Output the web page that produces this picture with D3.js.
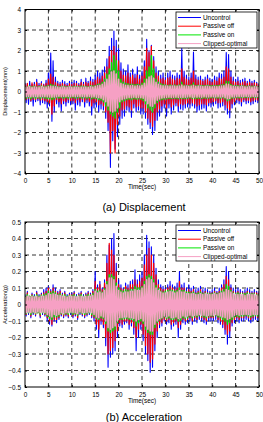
<!DOCTYPE html>
<html>
<head>
<meta charset="utf-8">
<script src="https://cdn.jsdelivr.net/npm/d3@7"></script>
<style>
  body { margin: 0; background: #fff; }
  svg { display: block; font-family: "Liberation Sans", Arial, sans-serif; }
</style>
</head>
<body>
<svg id="chart" width="263" height="422"></svg>
<script>
// sample step of the traces (sec)
const dt = 0.25;
const seriesNames = ["Uncontrol", "Passive off", "Passive on", "Clipped-optimal"];
const seriesColors = ["#0000ff", "#ff0000", "#00e600", "#f6a0c4"];
const seriesWidths = [1.1, 1.2, 1.4, 1.6];
const timeTicks = [0, 5, 10, 15, 20, 25, 30, 35, 40, 45, 50];
const dispTicks = [-4, -3, -2, -1, 0, 1, 2, 3, 4];
const accTicks = [-0.5, -0.4, -0.3, -0.2, -0.1, 0, 0.1, 0.2, 0.3, 0.4, 0.5];

// displacement (mm), one value every 0.25 s
const dispUnc = [
  0.42,-0.55,0.38,-0.62,0.5,-0.48,0.35,-0.7,0.45,-0.5,0.6,-0.45,0.4,-0.65,0.48,-0.55,0.36,-0.6,0.55,-0.8,
  0.9,-0.7,1.88,-1.45,1.5,-1.0,0.7,-0.6,0.5,-0.75,0.45,-0.95,0.55,-0.6,0.48,-0.7,0.4,-0.55,0.5,-0.65,
  0.45,-0.6,0.55,-0.9,0.5,-0.65,0.4,-0.7,0.6,-0.5,0.45,-0.75,0.65,-0.55,0.5,-0.7,0.7,-1.15,0.6,-0.8,
  0.8,-0.75,1.0,-1.0,0.9,-0.85,1.05,-0.9,1.2,-1.3,1.6,-1.9,2.2,-3.7,2.6,-2.4,2.95,-2.8,2.5,-2.2,
  2.1,-1.6,1.4,-1.3,1.1,-1.2,1.0,-0.9,1.3,-1.0,0.9,-1.25,1.1,-0.8,0.85,-1.0,1.2,-0.9,0.8,-1.1,
  1.0,-1.1,1.5,-1.3,2.55,-1.6,2.0,-1.8,2.25,-2.1,1.7,-1.9,1.2,-1.4,1.0,-1.2,0.8,-1.0,0.9,-0.8,
  0.7,-1.2,0.9,-0.8,1.0,-1.1,0.8,-0.9,0.75,-0.7,0.9,-1.0,0.8,-0.85,2.1,-0.9,1.0,-0.8,0.8,-0.75,
  0.7,-0.8,0.9,-0.7,1.92,-0.8,0.8,-1.0,0.7,-0.9,0.75,-0.85,0.6,-0.8,0.7,-0.95,0.8,-0.7,0.65,-0.75,
  0.6,-0.7,0.75,-0.6,0.7,-0.8,0.9,-0.75,0.85,-0.7,1.0,-0.9,1.9,-1.1,1.8,-1.28,1.0,-0.8,0.7,-0.65,
  0.6,-0.55,0.7,-0.6,0.55,-0.7,0.6,-0.5,0.65,-0.6,0.5,-0.55,0.6,-0.65,0.5,-0.6,0.55,-0.5,0.45,-0.55,
  0.4
];
const dispOff = [
  0.35,-0.4,0.4,-0.35,0.3,-0.45,0.42,-0.38,0.35,-0.4,0.45,-0.35,0.3,-0.42,0.38,-0.4,0.32,-0.45,0.4,-0.5,
  0.6,-0.55,0.85,-1.1,0.7,-0.7,0.45,-0.4,0.38,-0.5,0.35,-0.6,0.4,-0.45,0.35,-0.5,0.3,-0.4,0.38,-0.45,
  0.35,-0.45,0.4,-0.55,0.38,-0.4,0.32,-0.5,0.45,-0.38,0.35,-0.5,0.45,-0.4,0.4,-0.48,0.5,-0.7,0.45,-0.55,
  0.55,-0.5,0.7,-0.65,0.6,-0.6,0.75,-0.7,0.9,-1.0,1.2,-1.5,1.7,-3.0,2.0,-1.9,2.2,-3.0,1.9,-1.6,
  1.5,-1.2,1.0,-0.9,0.8,-0.85,0.75,-0.7,0.9,-0.75,0.7,-0.9,0.8,-0.6,0.65,-0.75,0.8,-0.7,0.6,-0.8,
  0.75,-0.8,1.2,-1.0,2.1,-1.3,1.9,-1.5,2.2,-1.7,1.5,-1.4,0.9,-1.0,0.75,-0.85,0.6,-0.7,0.65,-0.6,
  0.55,-0.8,0.65,-0.6,0.7,-0.75,0.6,-0.65,0.55,-0.55,0.65,-0.7,0.6,-0.6,1.1,-0.65,0.7,-0.6,0.6,-0.55,
  0.55,-0.6,0.65,-0.55,1.0,-0.6,0.6,-0.7,0.55,-0.65,0.55,-0.6,0.5,-0.6,0.55,-0.65,0.6,-0.55,0.5,-0.55,
  0.45,-0.5,0.55,-0.45,0.5,-0.55,0.65,-0.55,0.6,-0.5,0.7,-0.65,1.2,-0.8,1.1,-0.9,0.7,-0.6,0.5,-0.5,
  0.45,-0.4,0.5,-0.45,0.4,-0.5,0.45,-0.4,0.5,-0.45,0.4,-0.42,0.45,-0.5,0.4,-0.45,0.42,-0.4,0.38,-0.42,
  0.35
];
const dispOn = [
  0.25,-0.32,0.22,-0.3,0.28,-0.35,0.24,-0.3,0.26,-0.33,0.22,-0.3,0.25,-0.34,0.27,-0.3,0.24,-0.32,0.26,-0.35,
  0.3,-0.35,0.35,-0.4,0.32,-0.36,0.28,-0.3,0.25,-0.32,0.24,-0.3,0.26,-0.33,0.25,-0.3,0.23,-0.32,0.25,-0.3,
  0.24,-0.3,0.26,-0.33,0.25,-0.31,0.23,-0.3,0.27,-0.32,0.25,-0.3,0.26,-0.34,0.24,-0.3,0.28,-0.36,0.27,-0.33,
  0.3,-0.34,0.35,-0.4,0.38,-0.42,0.45,-0.5,0.6,-0.7,0.85,-0.9,1.1,-1.1,1.4,-1.2,1.75,-1.3,1.5,-1.0,
  1.0,-0.8,0.6,-0.5,0.45,-0.45,0.4,-0.4,0.38,-0.38,0.35,-0.4,0.36,-0.35,0.34,-0.38,0.35,-0.36,0.33,-0.38,
  0.4,-0.45,0.6,-0.6,1.0,-0.8,1.2,-0.9,1.75,-1.0,1.1,-0.8,0.6,-0.55,0.45,-0.45,0.38,-0.4,0.35,-0.38,
  0.32,-0.36,0.3,-0.34,0.33,-0.35,0.3,-0.33,0.32,-0.34,0.3,-0.35,0.32,-0.33,0.45,-0.35,0.32,-0.34,0.3,-0.33,
  0.3,-0.32,0.32,-0.34,0.42,-0.33,0.3,-0.35,0.31,-0.33,0.3,-0.34,0.29,-0.32,0.3,-0.33,0.31,-0.32,0.29,-0.31,
  0.28,-0.3,0.3,-0.31,0.29,-0.32,0.31,-0.33,0.32,-0.3,0.35,-0.36,0.5,-0.45,0.48,-0.42,0.35,-0.33,0.3,-0.31,
  0.28,-0.3,0.29,-0.31,0.27,-0.3,0.28,-0.29,0.27,-0.3,0.26,-0.28,0.27,-0.3,0.26,-0.28,0.27,-0.29,0.25,-0.28,
  0.25
];
const dispClip = [
  0.22,-0.25,0.2,-0.24,0.23,-0.26,0.21,-0.25,0.22,-0.24,0.2,-0.26,0.22,-0.25,0.23,-0.24,0.21,-0.25,0.22,-0.26,
  0.24,-0.27,0.26,-0.28,0.25,-0.27,0.23,-0.25,0.22,-0.24,0.21,-0.25,0.22,-0.24,0.21,-0.25,0.2,-0.24,0.22,-0.25,
  0.21,-0.24,0.22,-0.25,0.21,-0.24,0.2,-0.25,0.22,-0.24,0.21,-0.25,0.22,-0.26,0.21,-0.24,0.23,-0.27,0.22,-0.26,
  0.25,-0.28,0.28,-0.3,0.3,-0.33,0.35,-0.4,0.45,-0.5,0.6,-0.7,0.8,-0.95,0.95,-1.0,1.0,-0.95,0.85,-0.8,
  0.6,-0.5,0.4,-0.4,0.35,-0.35,0.3,-0.32,0.3,-0.3,0.28,-0.3,0.29,-0.28,0.27,-0.3,0.28,-0.29,0.27,-0.3,
  0.3,-0.33,0.4,-0.45,0.6,-0.6,0.7,-0.7,0.75,-0.72,0.65,-0.6,0.45,-0.42,0.35,-0.36,0.3,-0.32,0.28,-0.3,
  0.27,-0.29,0.26,-0.28,0.27,-0.29,0.26,-0.28,0.27,-0.28,0.26,-0.29,0.27,-0.28,0.32,-0.29,0.27,-0.28,0.26,-0.27,
  0.25,-0.27,0.26,-0.28,0.3,-0.27,0.25,-0.28,0.26,-0.27,0.25,-0.28,0.24,-0.26,0.25,-0.27,0.25,-0.26,0.24,-0.26,
  0.23,-0.25,0.24,-0.26,0.24,-0.26,0.25,-0.27,0.26,-0.25,0.28,-0.3,0.36,-0.35,0.35,-0.34,0.28,-0.27,0.25,-0.26,
  0.23,-0.25,0.24,-0.25,0.23,-0.24,0.24,-0.25,0.23,-0.24,0.22,-0.24,0.23,-0.25,0.22,-0.24,0.23,-0.24,0.22,-0.24,
  0.22
];

// acceleration (g), one value every 0.25 s
const accUnc = [
  0.06,-0.07,0.08,-0.06,0.05,-0.08,0.07,-0.06,0.06,-0.07,0.08,-0.05,0.06,-0.08,0.07,-0.06,0.09,-0.07,0.1,-0.1,
  0.11,-0.12,0.09,-0.13,0.12,-0.1,0.1,-0.11,0.08,-0.09,0.09,-0.07,0.07,-0.08,0.08,-0.07,0.06,-0.08,0.07,-0.06,
  0.07,-0.08,0.08,-0.07,0.06,-0.09,0.07,-0.06,0.08,-0.07,0.06,-0.08,0.07,-0.07,0.08,-0.06,0.07,-0.08,0.09,-0.1,
  0.2,-0.15,0.12,-0.2,0.14,-0.12,0.1,-0.14,0.15,-0.25,0.3,-0.38,0.36,-0.32,0.4,-0.3,0.43,-0.28,0.25,-0.2,
  0.15,-0.13,0.12,-0.14,0.1,-0.12,0.13,-0.11,0.12,-0.15,0.14,-0.13,0.15,-0.18,0.21,-0.28,0.15,-0.2,0.18,-0.15,
  0.2,-0.22,0.3,-0.3,0.42,-0.34,0.38,-0.41,0.35,-0.38,0.3,-0.28,0.22,-0.2,0.15,-0.14,0.12,-0.13,0.11,-0.1,
  0.1,-0.12,0.12,-0.11,0.14,-0.15,0.12,-0.13,0.11,-0.12,0.13,-0.2,0.2,-0.15,0.12,-0.11,0.13,-0.12,0.1,-0.11,
  0.12,-0.1,0.1,-0.12,0.11,-0.1,0.09,-0.11,0.1,-0.09,0.11,-0.1,0.09,-0.11,0.1,-0.12,0.09,-0.1,0.08,-0.1,
  0.09,-0.1,0.1,-0.09,0.08,-0.11,0.1,-0.12,0.12,-0.14,0.15,-0.18,0.23,-0.24,0.2,-0.2,0.12,-0.13,0.1,-0.11,
  0.09,-0.1,0.1,-0.11,0.09,-0.1,0.08,-0.1,0.09,-0.09,0.1,-0.1,0.09,-0.11,0.08,-0.1,0.09,-0.09,0.08,-0.1,
  0.08
];
const accOff = [
  0.05,-0.06,0.07,-0.05,0.05,-0.07,0.06,-0.05,0.05,-0.06,0.07,-0.05,0.05,-0.07,0.06,-0.05,0.07,-0.06,0.08,-0.08,
  0.1,-0.1,0.08,-0.12,0.1,-0.09,0.08,-0.09,0.07,-0.08,0.08,-0.06,0.06,-0.07,0.07,-0.06,0.05,-0.07,0.06,-0.05,
  0.06,-0.07,0.07,-0.06,0.05,-0.08,0.06,-0.05,0.07,-0.06,0.05,-0.07,0.06,-0.06,0.07,-0.05,0.06,-0.07,0.08,-0.08,
  0.14,-0.12,0.1,-0.15,0.12,-0.1,0.09,-0.12,0.13,-0.2,0.25,-0.3,0.37,-0.28,0.33,-0.26,0.3,-0.22,0.2,-0.16,
  0.12,-0.11,0.1,-0.12,0.09,-0.1,0.11,-0.1,0.1,-0.12,0.12,-0.11,0.12,-0.14,0.15,-0.2,0.12,-0.15,0.14,-0.12,
  0.16,-0.18,0.24,-0.25,0.3,-0.3,0.34,-0.35,0.3,-0.33,0.25,-0.24,0.18,-0.16,0.12,-0.12,0.1,-0.11,0.09,-0.09,
  0.09,-0.1,0.1,-0.09,0.11,-0.12,0.1,-0.11,0.09,-0.1,0.1,-0.14,0.14,-0.12,0.1,-0.09,0.1,-0.1,0.08,-0.09,
  0.09,-0.08,0.08,-0.1,0.09,-0.08,0.07,-0.09,0.08,-0.07,0.09,-0.08,0.07,-0.09,0.08,-0.1,0.07,-0.08,0.07,-0.08,
  0.07,-0.08,0.08,-0.07,0.07,-0.09,0.08,-0.1,0.1,-0.12,0.12,-0.15,0.17,-0.18,0.15,-0.16,0.1,-0.11,0.08,-0.09,
  0.07,-0.08,0.08,-0.09,0.07,-0.08,0.07,-0.08,0.07,-0.07,0.08,-0.08,0.07,-0.09,0.07,-0.08,0.07,-0.07,0.07,-0.08,
  0.07
];
const accOn = [
  0.05,-0.055,0.06,-0.05,0.05,-0.06,0.055,-0.05,0.05,-0.055,0.06,-0.05,0.05,-0.06,0.055,-0.05,0.06,-0.055,0.065,-0.07,
  0.08,-0.085,0.07,-0.09,0.08,-0.075,0.07,-0.075,0.06,-0.07,0.065,-0.055,0.055,-0.06,0.06,-0.055,0.05,-0.06,0.055,-0.05,
  0.055,-0.06,0.06,-0.055,0.05,-0.065,0.055,-0.05,0.06,-0.055,0.05,-0.06,0.055,-0.055,0.06,-0.05,0.055,-0.06,0.065,-0.07,
  0.09,-0.085,0.08,-0.09,0.085,-0.08,0.075,-0.085,0.095,-0.115,0.14,-0.16,0.18,-0.17,0.18,-0.16,0.17,-0.15,0.13,-0.11,
  0.1,-0.09,0.085,-0.09,0.08,-0.085,0.09,-0.085,0.085,-0.09,0.09,-0.09,0.09,-0.1,0.11,-0.13,0.1,-0.11,0.1,-0.1,
  0.11,-0.115,0.14,-0.15,0.17,-0.17,0.18,-0.18,0.17,-0.18,0.15,-0.14,0.115,-0.11,0.095,-0.095,0.08,-0.085,0.075,-0.075,
  0.08,-0.085,0.085,-0.08,0.09,-0.09,0.085,-0.09,0.08,-0.085,0.085,-0.1,0.1,-0.095,0.085,-0.08,0.085,-0.085,0.075,-0.08,
  0.075,-0.07,0.07,-0.08,0.075,-0.07,0.065,-0.075,0.07,-0.065,0.075,-0.07,0.065,-0.075,0.07,-0.08,0.065,-0.07,0.065,-0.07,
  0.065,-0.07,0.07,-0.065,0.065,-0.075,0.07,-0.08,0.08,-0.09,0.09,-0.1,0.12,-0.12,0.11,-0.11,0.085,-0.09,0.07,-0.075,
  0.065,-0.07,0.07,-0.075,0.065,-0.07,0.065,-0.07,0.065,-0.065,0.07,-0.07,0.065,-0.075,0.065,-0.07,0.065,-0.065,0.06,-0.07,
  0.06
];
const accClip = [
  0.045,-0.05,0.05,-0.045,0.045,-0.05,0.05,-0.045,0.045,-0.05,0.05,-0.045,0.045,-0.05,0.05,-0.045,0.05,-0.05,0.055,-0.06,
  0.065,-0.07,0.06,-0.075,0.065,-0.06,0.06,-0.065,0.055,-0.06,0.055,-0.05,0.05,-0.055,0.05,-0.05,0.045,-0.05,0.05,-0.045,
  0.05,-0.05,0.05,-0.05,0.045,-0.055,0.05,-0.045,0.05,-0.05,0.045,-0.05,0.05,-0.05,0.05,-0.045,0.05,-0.05,0.055,-0.06,
  0.08,-0.075,0.07,-0.08,0.075,-0.07,0.07,-0.075,0.085,-0.1,0.12,-0.14,0.16,-0.15,0.16,-0.14,0.15,-0.13,0.11,-0.1,
  0.085,-0.08,0.075,-0.08,0.07,-0.075,0.075,-0.075,0.075,-0.08,0.08,-0.08,0.08,-0.085,0.09,-0.1,0.085,-0.09,0.085,-0.085,
  0.1,-0.1,0.12,-0.13,0.15,-0.15,0.16,-0.16,0.15,-0.16,0.13,-0.12,0.1,-0.1,0.085,-0.085,0.075,-0.08,0.07,-0.07,
  0.07,-0.075,0.075,-0.07,0.08,-0.08,0.075,-0.08,0.07,-0.075,0.075,-0.085,0.085,-0.08,0.075,-0.07,0.075,-0.075,0.065,-0.07,
  0.065,-0.065,0.065,-0.07,0.065,-0.065,0.06,-0.065,0.06,-0.06,0.065,-0.065,0.06,-0.065,0.065,-0.07,0.06,-0.065,0.06,-0.065,
  0.06,-0.065,0.065,-0.06,0.06,-0.065,0.065,-0.07,0.07,-0.075,0.075,-0.08,0.09,-0.09,0.085,-0.085,0.075,-0.075,0.065,-0.065,
  0.06,-0.06,0.06,-0.065,0.06,-0.06,0.06,-0.06,0.055,-0.06,0.06,-0.06,0.06,-0.065,0.06,-0.06,0.06,-0.06,0.055,-0.06,
  0.055
];

const svg = d3.select("#chart");

// one MATLAB style panel
function drawPanel(opt) {
  const left = 25, right = 259;
  const x = d3.scaleLinear().domain([0, 50]).range([left, right]);
  const y = d3.scaleLinear().domain(opt.yDomain).range([opt.bottom, opt.top]);
  const g = svg.append("g");

  g.append("defs").append("clipPath").attr("id", opt.id + "clip")
    .append("rect")
    .attr("x", left).attr("y", opt.top)
    .attr("width", right - left).attr("height", opt.bottom - opt.top);

  // dashed grid
  const grid = g.append("g").attr("stroke", "#000").attr("stroke-width", 0.8)
    .attr("stroke-dasharray", "4,3");
  grid.selectAll(".gx").data(opt.xTicks.slice(1, -1)).join("line")
    .attr("x1", d => x(d)).attr("x2", d => x(d))
    .attr("y1", opt.top).attr("y2", opt.bottom);
  grid.selectAll(".gy").data(opt.yTicks.slice(1, -1)).join("line")
    .attr("x1", left).attr("x2", right)
    .attr("y1", d => y(d)).attr("y2", d => y(d));

  // traces
  const line = d3.line().x((d, i) => x(i * dt)).y(d => y(d));
  g.append("g").attr("clip-path", "url(#" + opt.id + "clip)")
    .selectAll("path").data(opt.series).join("path")
    .attr("fill", "none")
    .attr("stroke", (d, i) => seriesColors[i])
    .attr("stroke-width", (d, i) => seriesWidths[i])
    .attr("stroke-linejoin", "round")
    .attr("d", line);

  // axes with inward ticks, box on all sides
  const fmt = opt.fmt;
  g.append("g").attr("transform", "translate(0," + opt.bottom + ")")
    .call(d3.axisBottom(x).tickValues(opt.xTicks).tickSizeInner(-2).tickSizeOuter(0).tickPadding(5))
    .call(a => a.select(".domain").remove());
  g.append("g").attr("transform", "translate(0," + opt.top + ")")
    .call(d3.axisTop(x).tickValues(opt.xTicks).tickSizeInner(-2).tickSizeOuter(0).tickFormat(""))
    .call(a => a.select(".domain").remove());
  g.append("g").attr("transform", "translate(" + left + ",0)")
    .call(d3.axisLeft(y).tickValues(opt.yTicks).tickSizeInner(-2).tickSizeOuter(0).tickPadding(4).tickFormat(fmt))
    .call(a => a.select(".domain").remove());
  g.append("g").attr("transform", "translate(" + right + ",0)")
    .call(d3.axisRight(y).tickValues(opt.yTicks).tickSizeInner(-2).tickSizeOuter(0).tickFormat(""))
    .call(a => a.select(".domain").remove());
  g.selectAll(".tick text").attr("font-size", 6.4).attr("fill", "#000")
    .attr("font-family", "Liberation Sans, Arial, sans-serif");
  g.selectAll(".tick line").attr("stroke", "#000");

  g.append("rect")
    .attr("x", left).attr("y", opt.top)
    .attr("width", right - left).attr("height", opt.bottom - opt.top)
    .attr("fill", "none").attr("stroke", "#000").attr("stroke-width", 1);

  // axis labels and caption
  g.append("text").attr("x", (left + right) / 2).attr("y", opt.bottom + 15.5)
    .attr("text-anchor", "middle").attr("font-size", 6.4).text("Time(sec)");
  g.append("text")
    .attr("transform", "translate(7," + ((opt.top + opt.bottom) / 2) + ") rotate(-90)")
    .attr("text-anchor", "middle").attr("font-size", 5.8).text(opt.yLabel);
  g.append("text").attr("x", 144).attr("y", opt.bottom + opt.capGap)
    .attr("text-anchor", "middle").attr("font-size", 11).text(opt.caption);

  // legend
  const lg = g.append("g").attr("transform", "translate(176," + opt.legendTop + ")");
  lg.append("rect").attr("width", 81).attr("height", 36)
    .attr("fill", "#fff").attr("stroke", "#000").attr("stroke-width", 0.8);
  const item = lg.selectAll(".item").data(seriesNames).join("g")
    .attr("transform", (d, i) => "translate(0," + (5.5 + i * 8.7) + ")");
  item.append("line").attr("x1", 2).attr("x2", 25)
    .attr("stroke", (d, i) => seriesColors[i]).attr("stroke-width", 1);
  item.append("text").attr("x", 27).attr("dy", "0.35em")
    .attr("font-size", 6.4).text(d => d);
}

drawPanel({
  id: "disp", top: 9.5, bottom: 173.5, yDomain: [-4, 4],
  xTicks: timeTicks, yTicks: dispTicks, fmt: d3.format("d"),
  series: [dispUnc, dispOff, dispOn, dispClip],
  yLabel: "Displacement(mm)", caption: "(a) Displacement", legendTop: 12, capGap: 37
});
drawPanel({
  id: "acc", top: 222, bottom: 387, yDomain: [-0.5, 0.5],
  xTicks: timeTicks, yTicks: accTicks, fmt: d => d === 0 ? "0" : d3.format(".1f")(d),
  series: [accUnc, accOff, accOn, accClip],
  yLabel: "Acceleration(g)", caption: "(b) Acceleration", legendTop: 225, capGap: 34
});
</script>
</body>
</html>
